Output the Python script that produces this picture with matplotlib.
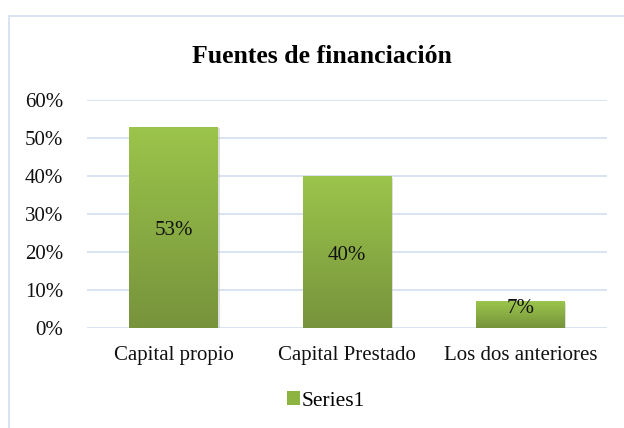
import matplotlib.pyplot as plt
import numpy as np
from matplotlib.colors import LinearSegmentedColormap
from matplotlib.patches import Rectangle

# data
categories = ['Capital propio', 'Capital Prestado', 'Los dos anteriores']
values = [53, 40, 7]
labels = ['53%', '40%', '7%']
yticks = [0, 10, 20, 30, 40, 50, 60]

plt.rcParams['font.family'] = ['Liberation Serif', 'DejaVu Serif']

fig = plt.figure(figsize=(6.24, 4.28), dpi=100)

# chart border (only top/left visible in reference)
fig.patches.append(Rectangle((9 / 624, -0.05), 1.0, 1 - 16 / 428 + 0.05,
                             transform=fig.transFigure, fill=False,
                             edgecolor='#D6E1F1', linewidth=1.3))

ax = fig.add_axes([87 / 624, 1 - 328 / 428, 520 / 624, 228 / 428])
x = np.arange(len(categories))

bars = ax.bar(x, values, width=0.51, color='#8DB441', zorder=3)

# gradient fill, light at top, darker at bottom
cmap = LinearSegmentedColormap.from_list('g', ['#77933C', '#9BC54B'])
grad = np.linspace(0, 1, 256).reshape(-1, 1)
for b in bars:
    x0, y0 = b.get_x(), b.get_y()
    w, h = b.get_width(), b.get_height()
    # soft shadow
    ax.add_patch(Rectangle((x0 + 0.01, y0 - 0.4), w, h, facecolor='#BFBFBF',
                           alpha=0.5, zorder=2, linewidth=0))
    im = ax.imshow(grad, cmap=cmap, origin='lower', aspect='auto',
                   extent=[x0, x0 + w, y0, y0 + h], zorder=4)
    im.set_clip_path(b)

for xi, v, lab in zip(x, values, labels):
    ax.text(xi, v / 2 - 0.8 if v > 10 else v * 0.72, lab, ha='center', va='center',
            fontsize=15, color='#111111', zorder=5)

ax.set_xlim(-0.5, 2.5)
ax.set_ylim(0, 60)
ax.set_yticks(yticks)
ax.set_yticklabels([f'{t}%' for t in yticks])
ax.set_xticks(x)
ax.set_xticklabels(categories)
ax.tick_params(axis='both', length=0, labelsize=15, colors='#111111')
ax.tick_params(axis='y', pad=17)
ax.tick_params(axis='x', pad=13)
ax.grid(axis='y', color='#D6E1F1', linewidth=1.3, zorder=0)
for s in ax.spines.values():
    s.set_visible(False)

fig.text(322 / 624, 1 - 57 / 428, 'Fuentes de financiación', ha='center',
         va='center', fontsize=18.5, fontweight='bold')

# legend
leg_ax_h = Rectangle((0, 0), 1, 1, facecolor='#8DB441')
fig.legend([leg_ax_h], ['Series1'], loc='center', bbox_to_anchor=(326 / 624, 1 - 401 / 428),
           frameon=False, fontsize=15.5, handlelength=0.6, handleheight=0.6,
           handletextpad=0.1)

fig.savefig('out.png', dpi=100)
